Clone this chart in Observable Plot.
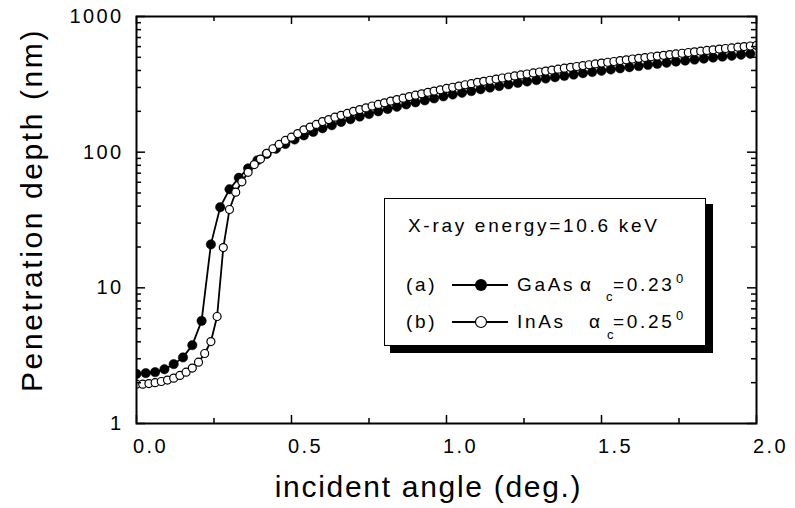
<!DOCTYPE html>
<html><head><meta charset="utf-8">
<script src="https://cdn.jsdelivr.net/npm/d3@7"></script>
<script src="https://cdn.jsdelivr.net/npm/@observablehq/plot@0.6"></script>
<style>
body{margin:0;background:#fff;}
#wrap{position:relative;width:795px;height:508px;}
#legend{position:absolute;left:0;top:0;pointer-events:none;}
#legend text{font-family:'Liberation Sans',Arial,sans-serif;font-size:19px;letter-spacing:2.7px;fill:#000;}
#legend text.small{font-size:13px;letter-spacing:0;}
</style></head><body><div id="wrap"></div>
<script>
// InAs (open circles), angle in degrees
const inasAngle = [0,0.02,0.04,0.06,0.08,0.1,0.12,0.14,0.16,0.18,0.2,0.22,0.24,0.26,0.28,0.3,0.32,0.34,0.36,0.38,0.4,0.42,0.44,0.46,0.48,0.5,0.52,0.54,0.56,0.58,0.6,0.62,0.64,0.66,0.68,0.7,0.72,0.74,0.76,0.78,0.8,0.82,0.84,0.86,0.88,0.9,0.92,0.94,0.96,0.98,1,1.02,1.04,1.06,1.08,1.1,1.12,1.14,1.16,1.18,1.2,1.22,1.24,1.26,1.28,1.3,1.32,1.34,1.36,1.38,1.4,1.42,1.44,1.46,1.48,1.5,1.52,1.54,1.56,1.58,1.6,1.62,1.64,1.66,1.68,1.7,1.72,1.74,1.76,1.78,1.8,1.82,1.84,1.86,1.88,1.9,1.92,1.94,1.96,1.98,2];
const inasDepth = [1.95,1.95,1.97,2.00,2.04,2.09,2.16,2.26,2.39,2.56,2.83,3.28,4.02,6.15,19.8,37.8,50.7,60.5,71,81,89,98,106,114,122,129,137,146,153,160,168,174,181,187,193,200,206,212,219,225,231,238,244,250,257,263,269,276,282,288,295,301,307,314,320,327,333,339,346,352,358,365,371,377,384,390,396,403,409,416,422,428,435,441,447,454,460,466,473,479,486,492,498,505,511,517,524,530,536,543,549,555,562,568,575,581,587,594,600,606,613];
// GaAs (filled circles)
const gaasAngle = [0,0.03,0.06,0.09,0.12,0.15,0.18,0.21,0.24,0.27,0.3,0.33,0.36,0.39,0.42,0.45,0.48,0.51,0.54,0.57,0.6,0.63,0.66,0.69,0.72,0.75,0.78,0.81,0.84,0.87,0.9,0.93,0.96,0.99,1.02,1.05,1.08,1.11,1.14,1.17,1.2,1.23,1.26,1.29,1.32,1.35,1.38,1.41,1.44,1.47,1.5,1.53,1.56,1.59,1.62,1.65,1.68,1.71,1.74,1.77,1.8,1.83,1.86,1.89,1.92,1.95,1.98];
const gaasDepth = [2.32,2.35,2.39,2.51,2.74,3.07,3.78,5.71,20.9,39.3,53.3,64.7,76,87,97,106,115,124,133,141,150,158,167,175,183,191,200,208,216,225,233,241,249,258,266,274,282,291,299,307,316,324,332,340,349,357,365,373,382,390,398,407,415,423,431,440,448,456,465,473,481,489,498,506,514,523,531];

const xMajorTicks = [0,0.5,1,1.5,2];
const xMinorTicks = [0.25,0.75,1.25,1.75];
const yMajorTicks = [1,10,100,1000];
const yMinorTicks = [2,3,4,5,6,7,8,9,20,30,40,50,60,70,80,90,200,300,400,500,600,700,800,900];
const xTitle = "incident angle (deg.)";
const yTitle = "Penetration depth (nm)";

const gaas = gaasAngle.map((a,i)=>({angle:a, depth:gaasDepth[i]}));
const inas = inasAngle.map((a,i)=>({angle:a, depth:inasDepth[i]}));

const W=795,H=508,mT=16,mR=39,mB=85,mL=136;
const fw=W-mL-mR, fh=H-mT-mB;

const chart = Plot.plot({
  width:W, height:H, marginTop:mT, marginRight:mR, marginBottom:mB, marginLeft:mL,
  style:{fontFamily:"'Liberation Sans', Arial, sans-serif", letterSpacing:"2.4px", background:"white", color:"black", overflow:"visible"},
  x:{domain:[0,2]},
  y:{type:"log", domain:[1,1000]},
  marks:[
    Plot.line(gaas,{x:"angle",y:"depth",stroke:"black",strokeWidth:1.8,clip:true}),
    Plot.dot(gaas,{x:"angle",y:"depth",r:4.7,fill:"black",stroke:"black",strokeWidth:0.5,clip:true}),
    Plot.line(inas,{x:"angle",y:"depth",stroke:"black",strokeWidth:1.8,clip:true}),
    Plot.dot(inas,{x:"angle",y:"depth",r:4,fill:"white",stroke:"black",strokeWidth:1.2,clip:true}),
    Plot.frame({stroke:"black",strokeWidth:2}),
    Plot.tickX(xMajorTicks,{x:d=>d,insetTop:fh-8,stroke:"black",strokeWidth:1.5}),
    Plot.tickX(xMajorTicks,{x:d=>d,insetBottom:fh-8,stroke:"black",strokeWidth:1.5}),
    Plot.tickX(xMinorTicks,{x:d=>d,insetTop:fh-5,stroke:"black",strokeWidth:1.5}),
    Plot.tickX(xMinorTicks,{x:d=>d,insetBottom:fh-5,stroke:"black",strokeWidth:1.5}),
    Plot.tickY(yMajorTicks,{y:d=>d,insetRight:fw-9,stroke:"black",strokeWidth:1.5}),
    Plot.tickY(yMajorTicks,{y:d=>d,insetLeft:fw-9,stroke:"black",strokeWidth:1.5}),
    Plot.tickY(yMinorTicks,{y:d=>d,insetRight:fw-5,stroke:"black",strokeWidth:1.5}),
    Plot.tickY(yMinorTicks,{y:d=>d,insetLeft:fw-5,stroke:"black",strokeWidth:1.5}),
    Plot.axisX(xMajorTicks,{tickSize:0,tickPadding:15,tickFormat:d3.format(".1f"),fontSize:20,dx:14,label:null}),
    Plot.axisY(yMajorTicks,{tickSize:0,tickPadding:13,tickFormat:d=>String(d),fontSize:20,label:null}),
    Plot.text([xTitle],{text:d=>d,frameAnchor:"bottom",textAnchor:"middle",lineAnchor:"middle",dy:64,dx:-18,fontSize:30}),
    Plot.text([yTitle],{text:d=>d,frameAnchor:"left",textAnchor:"middle",lineAnchor:"middle",rotate:-90,dx:-104,dy:-10,fontSize:30})
  ]
});
const wrap = document.getElementById("wrap");
wrap.appendChild(chart);
d3.select(chart).selectAll("text").filter(function(){ return this.textContent===xTitle; }).style("letter-spacing","1.7px");
d3.select(chart).selectAll("text").filter(function(){ return this.textContent===yTitle; }).style("letter-spacing","2.6px");

// legend overlay
const legend = `<svg id="legend" width="795" height="508" xmlns="http://www.w3.org/2000/svg">
<rect x="390" y="204" width="323" height="149" fill="black"/>
<rect x="384.5" y="198.5" width="321" height="147" fill="white" stroke="black" stroke-width="1"/>
<text x="408" y="232">X-ray energy=10.6 keV</text>
<text x="406" y="291">(a)</text>
<line x1="452" x2="508" y1="285" y2="285" stroke="black" stroke-width="2"/>
<circle cx="481" cy="285" r="6" fill="black"/>
<text x="517" y="291">GaAs</text>
<text x="580" y="291">α</text>
<text class="small" x="606" y="301">c</text>
<text x="613" y="291">=0.23</text>
<text class="small" x="676" y="283">0</text>
<text x="406" y="328">(b)</text>
<line x1="452" x2="508" y1="322" y2="322" stroke="black" stroke-width="2"/>
<circle cx="481" cy="322" r="5.5" fill="white" stroke="black" stroke-width="1.2"/>
<text x="517" y="328">InAs</text>
<text x="589" y="328">α</text>
<text class="small" x="607" y="339">c</text>
<text x="613" y="328">=0.25</text>
<text class="small" x="676" y="320">0</text>
</svg>`;
wrap.insertAdjacentHTML("beforeend", legend);
</script>
</body></html>
